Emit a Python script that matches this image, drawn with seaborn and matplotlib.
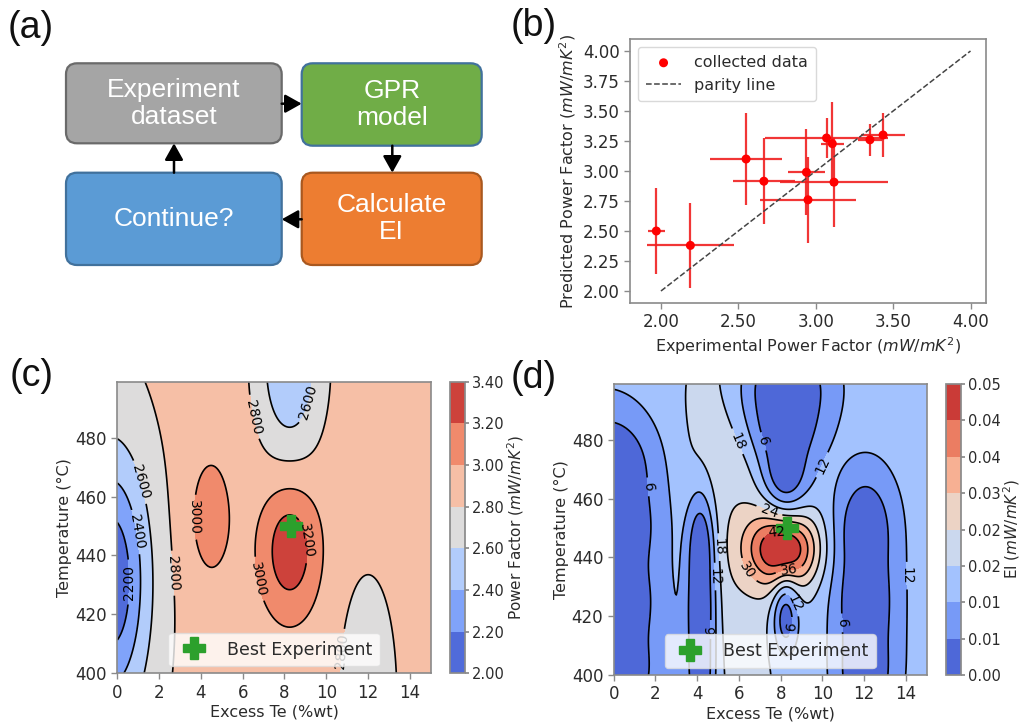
import numpy as np
import matplotlib
matplotlib.use("Agg")
import matplotlib.pyplot as plt
import seaborn as sns
from matplotlib.patches import FancyBboxPatch

# ---------------- data ----------------
# (a) workflow steps
flow_labels = ["Experiment\ndataset", "GPR\nmodel", "Calculate\nEI", "Continue?"]
flow_fill = ["#a5a5a5", "#70ad47", "#ed7d31", "#5b9bd5"]
flow_edge = ["#6a6a6a", "#41719c", "#a9581f", "#41719c"]

# (b) parity plot: experimental vs predicted power factor (mW/mK^2)
pf_experimental = [1.97, 2.19, 2.55, 2.665, 3.07, 3.107, 3.118, 2.94, 2.95, 3.35, 3.435]
pf_predicted = [2.50, 2.38, 3.10, 2.915, 3.275, 3.228, 2.907, 2.99, 2.76, 3.26, 3.30]
pf_exp_err = [0.056, 0.28, 0.23, 0.20, 0.40, 0.075, 0.35, 0.12, 0.31, 0.08, 0.14]
pf_pred_err = [0.36, 0.355, 0.38, 0.36, 0.17, 0.35, 0.37, 0.36, 0.36, 0.135, 0.18]
parity = [2.0, 4.0]
b_xticks = [2.0, 2.5, 3.0, 3.5, 4.0]
b_yticks = [2.0, 2.25, 2.5, 2.75, 3.0, 3.25, 3.5, 3.75, 4.0]

# (c) GPR mean of power factor: base level plus kernel components
pf_base = 2.90
pf_te_c = [-0.5, -0.3, 8.25, 12.0, 4.4, 8.25]
pf_temp_c = [420, 432, 505, 392, 453, 442]
pf_te_w = [2.3, 1.2, 1.1, 0.93, 0.85, 0.95]
pf_temp_w = [70, 28, 22, 28, 17, 15.2]
pf_amp = [-0.22, -0.66, -0.50, -0.30, 0.20, 0.45]
pf_levels = [2.0, 2.2, 2.4, 2.6, 2.8, 3.0, 3.2, 3.4]

# (d) expected improvement: smooth signal, damped around sampled conditions
ei_base = 0.0145
ei_bump_te = [5.8, 8.15]
ei_bump_temp = [455, 443]
ei_bump_te_w = [2.4, 1.2]
ei_bump_temp_w = [55, 9.0]
ei_bump_amp = [0.0085, 0.032]
ei_pts_te = [-0.3, -0.3, -0.3, -0.3, 4.15, 4.15, 4.15,
             8.25, 8.25, 8.25, 8.25, 12.05, 12.05, 12.05]
ei_pts_temp = [400, 425, 450, 472, 400, 422, 443,
               499, 486, 470, 419, 400, 425, 450]
ei_pts_te_w = [1.9, 1.9, 1.9, 1.7, 0.48, 0.48, 0.48,
               1.5, 1.2, 0.8, 0.45, 1.0, 1.0, 1.0]
ei_pts_temp_w = [14, 14, 14, 14, 14, 14, 14,
                 11, 11, 10, 9, 14, 14, 14]
ei_pts_depth = [0.97, 0.97, 0.97, 0.97, 0.97, 0.97, 0.97,
                0.97, 0.97, 0.97, 0.85, 0.97, 0.97, 0.97]
ei_levels = [0.0, 0.006, 0.012, 0.018, 0.024, 0.030, 0.036, 0.042, 0.048]

best_te = [8.3]
best_temp = [450]

te_axis = np.linspace(0, 15, 301)
temp_axis = np.linspace(400, 499, 199)

# ---------------- style ----------------
sns.set_theme(style="ticks")
plt.rcParams["font.family"] = ["DejaVu Sans"]
plt.rcParams["mathtext.fontset"] = "dejavusans"
TXT = "#2b2b2b"
SPINE = "#8a8a8a"
cmap = sns.color_palette("coolwarm", as_cmap=True)

W, H = 1022, 723
fig = plt.figure(figsize=(W / 100, H / 100), dpi=100)


def px_axes(left, top, right, bottom):
    return fig.add_axes([left / W, 1 - bottom / H, (right - left) / W, (bottom - top) / H])


def style_axes(ax, size):
    for s in ax.spines.values():
        s.set_color(SPINE)
        s.set_linewidth(1.2)
    ax.tick_params(colors=TXT, labelsize=size, length=4, width=1, color=SPINE)


# ---------------- (a) workflow ----------------
ax_a = px_axes(0, 0, 511, 330)
ax_a.set_xlim(0, 511)
ax_a.set_ylim(330, 0)
ax_a.axis("off")
boxes = [(66, 63.3, 215.7, 80.0), (301.7, 63.3, 180.0, 82.4),
         (301.7, 172.7, 180.0, 92.3), (66, 172.7, 215.7, 92.3)]
for (x0, y0, bw, bh), lab, fc, ec in zip(boxes, flow_labels, flow_fill, flow_edge):
    ax_a.add_patch(FancyBboxPatch((x0, y0), bw, bh,
                                  boxstyle="round,pad=0,rounding_size=11",
                                  fc=fc, ec=ec, lw=1.6))
    ax_a.text(x0 + bw / 2, y0 + bh / 2, lab, ha="center", va="center",
              color="white", fontsize=19, family="Liberation Sans", linespacing=1.15)
arrows = [((281.7, 103.7), (301.7, 103.7)), ((392.3, 145.7), (392.3, 172.7)),
          ((301.7, 219.3), (281.7, 219.3)), ((174, 172.7), (174, 143.3))]
for start, end in arrows:
    ax_a.annotate("", xy=end, xytext=start,
                  arrowprops=dict(arrowstyle="-|>,head_length=0.5,head_width=0.28",
                                  mutation_scale=20, lw=1.8, color="black",
                                  shrinkA=0, shrinkB=0))

# ---------------- (b) parity ----------------
ax_b = px_axes(630, 39, 986, 303)
ax_b.errorbar(pf_experimental, pf_predicted, xerr=pf_exp_err, yerr=pf_pred_err,
              fmt="none", ecolor="#f02020", elinewidth=1.6, capsize=0, alpha=0.9)
sns.scatterplot(x=pf_experimental, y=pf_predicted, ax=ax_b, color="red", s=42,
                edgecolor="none", label="collected data", zorder=3)
sns.lineplot(x=parity, y=parity, ax=ax_b, color="#444444", lw=1.1,
             linestyle="--", label="parity line")
ax_b.set_xlim(1.80, 4.10)
ax_b.set_ylim(1.90, 4.10)
ax_b.set_xticks(b_xticks)
ax_b.set_yticks(b_yticks)
ax_b.xaxis.set_major_formatter("{x:.2f}")
ax_b.yaxis.set_major_formatter("{x:.2f}")
ax_b.set_xlabel("Experimental Power Factor ($mW/mK^2$)", fontsize=11.5, color=TXT, labelpad=3)
ax_b.set_ylabel("Predicted Power Factor ($mW/mK^2$)", fontsize=11.5, color=TXT, labelpad=3)
style_axes(ax_b, 12)
leg = ax_b.legend(loc="upper left", fontsize=11.5, frameon=True, handlelength=2.2,
                  borderpad=0.5, labelspacing=0.5)
leg.get_frame().set_edgecolor("#d0d0d0")
for t in leg.get_texts():
    t.set_color(TXT)

# ---------------- fields ----------------
X, Y = np.meshgrid(te_axis, temp_axis)


def kernel(x0, y0, wx, wy):
    return np.exp(-0.5 * (((X - x0) / wx) ** 2 + ((Y - y0) / wy) ** 2))


pf_field = np.full(X.shape, pf_base)
for x0, y0, wx, wy, a in zip(pf_te_c, pf_temp_c, pf_te_w, pf_temp_w, pf_amp):
    pf_field += a * kernel(x0, y0, wx, wy)
pf_field = np.clip(pf_field, pf_levels[0] + 1e-4, pf_levels[-1] - 1e-4)

ei_field = np.full(X.shape, ei_base)
for x0, y0, wx, wy, a in zip(ei_bump_te, ei_bump_temp, ei_bump_te_w, ei_bump_temp_w, ei_bump_amp):
    ei_field += a * kernel(x0, y0, wx, wy)
for x0, y0, wx, wy, d in zip(ei_pts_te, ei_pts_temp, ei_pts_te_w, ei_pts_temp_w, ei_pts_depth):
    ei_field *= 1 - d * kernel(x0, y0, wx, wy)
ei_field = np.clip(ei_field, ei_levels[0] + 1e-5, ei_levels[-1] - 1e-5)


def contour_panel(ax, cax, field, levels, cbar_label):
    cf = ax.contourf(X, Y, field, levels=levels, cmap=cmap)
    cl = ax.contour(X, Y, field, levels=levels[1:-1], colors="black", linewidths=1.2)
    ax.clabel(cl, fmt=lambda v: f"{v * 1000:.0f}", fontsize=10, inline=True)
    ax.plot(best_te, best_temp, marker="P", ms=16, color="#2ca02c", ls="none",
            label="Best Experiment")
    ax.set_xlim(0, 15)
    ax.set_ylim(400, 499)
    ax.set_xticks(range(0, 15, 2))
    ax.set_yticks(range(400, 481, 20))
    ax.set_xlabel("Excess Te (%wt)", fontsize=11.5, color=TXT, labelpad=2)
    ax.set_ylabel("Temperature (°C)", fontsize=11.5, color=TXT, labelpad=2)
    style_axes(ax, 12)
    lg = ax.legend(loc="lower center", fontsize=12.5, framealpha=0.8,
                   borderpad=0.45, handletextpad=0.9, borderaxespad=0.4)
    lg.set_zorder(5)
    lg.get_frame().set_edgecolor("#dddddd")
    for t in lg.get_texts():
        t.set_color(TXT)
    cb = fig.colorbar(cf, cax=cax)
    cb.set_ticks(levels)
    cb.ax.yaxis.set_major_formatter("{x:.2f}")
    cb.ax.tick_params(labelsize=10.5, colors=TXT, length=3, pad=2, color=SPINE)
    cb.outline.set_edgecolor(SPINE)
    cb.set_label(cbar_label, fontsize=11, color=TXT, labelpad=0)


ax_c = px_axes(117.3, 381.7, 430.7, 673.3)
cax_c = px_axes(450, 381.7, 465, 673.3)
contour_panel(ax_c, cax_c, pf_field, pf_levels, "Power Factor ($mW/mK^2$)")

ax_d = px_axes(613.7, 384, 926.7, 675)
cax_d = px_axes(945.7, 384, 961, 675)
contour_panel(ax_d, cax_d, ei_field, ei_levels, "EI ($mW/mK^2$)")

# ---------------- panel tags ----------------
for tag, (x, y) in zip(["(a)", "(b)", "(c)", "(d)"],
                       [(8, 10), (511, 8), (10, 358), (511, 360)]):
    fig.text(x / W, 1 - y / H, tag, fontsize=27, va="top", ha="left",
             family="Liberation Sans", color="#111111")

fig.savefig("out.png", dpi=100)
